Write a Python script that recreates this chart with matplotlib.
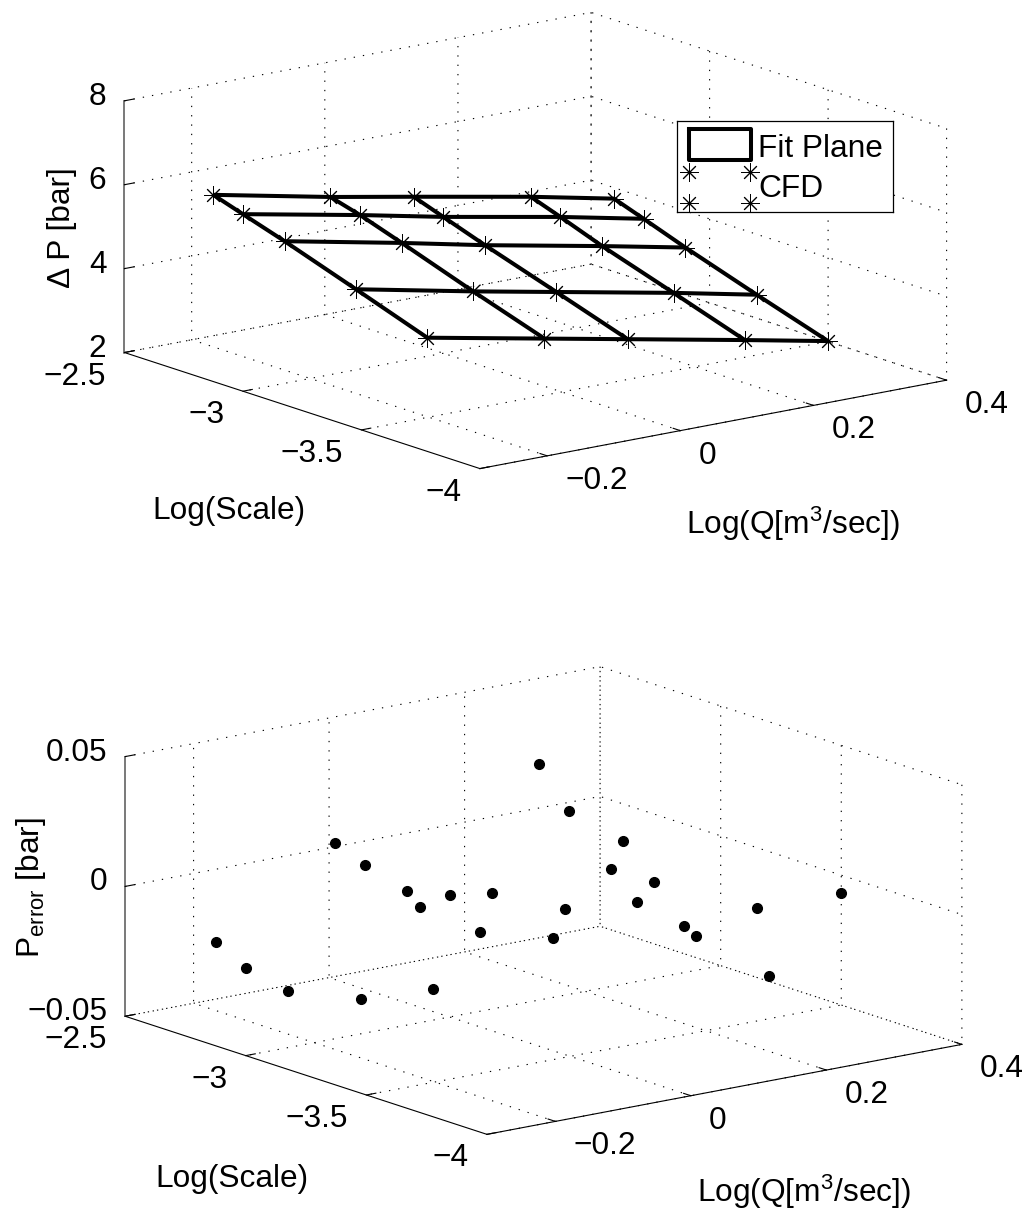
import matplotlib
matplotlib.use("Agg")
import matplotlib.pyplot as plt
from mpl_toolkits.mplot3d import proj3d
import numpy as np

plt.rcParams['font.family'] = ['Liberation Sans', 'DejaVu Sans']
plt.rcParams['mathtext.fontset'] = 'custom'
plt.rcParams['mathtext.rm'] = 'Liberation Sans'
plt.rcParams['mathtext.default'] = 'regular'
plt.rcParams['grid.linestyle'] = (0, (1.2, 7.2))
plt.rcParams['grid.linewidth'] = 0.8
plt.rcParams['grid.color'] = 'black'

W, H = 1031, 1214
FS = 22.8

# Log(Q) and Log(Scale) of the test grid
log_q = np.array([-0.301, -0.125, 0.0, 0.176, 0.301])
log_scale = np.array([-2.875, -3.0, -3.176, -3.477, -3.778])

# Delta P [bar], one row per scale
delta_p = np.array([
    [6.45, 5.87, 5.50, 4.97, 4.55],
    [6.22, 5.67, 5.25, 4.72, 4.30],
    [5.90, 5.33, 4.90, 4.35, 3.94],
    [5.31, 4.73, 4.34, 3.79, 3.37],
    [4.71, 4.16, 3.77, 3.22, 2.82],
])

# P error [bar]
p_error = np.array([
    [-0.0101, 0.0195, -0.0114, 0.0351, -0.0009],
    [-0.0163, 0.0148, -0.0030, 0.0208, -0.0128],
    [-0.0198, 0.0102, 0.0031, 0.0035, -0.0282],
    [-0.0137, 0.0032, 0.0062, -0.0093, -0.0348],
    [-0.0006, 0.0101, 0.0177, 0.0068, 0.0063],
])

q_ticks = [-0.2, 0, 0.2, 0.4]
q_labels = ['\u22120.2', '0', '0.2', '0.4']
scale_ticks = [-2.5, -3, -3.5, -4]
scale_labels = ['\u22122.5', '\u22123', '\u22123.5', '\u22124']
dp_ticks = [2, 4, 6, 8]
dp_labels = ['2', '4', '6', '8']
err_ticks = [-0.05, 0, 0.05]
err_labels = ['\u22120.05', '0', '0.05']


def tick_text(ax, x, y, z, s, dx, dy, ha):
    # project the tick position to pixels, then shift the label by some pixels
    px, py, _ = proj3d.proj_transform(x, y, z, ax.get_proj())
    X, Y = ax.transData.transform((px, py))
    ax.figure.text((X + dx) / W, (Y + dy) / H, s, ha=ha, va='center', fontsize=FS)


def make_axes(fig, cx, cy, size, z_ratio, zlim, z_ticks, z_labels):
    # cx, cy = centre of the 3d box in pixels from top left, size = axes side in pixels
    left = cx - 0.5135 * size
    bottom = H - cy - 0.5135 * size
    ax = fig.add_axes([left / W, bottom / H, size / W, size / H], projection='3d',
                      proj_type='ortho')
    ax.view_init(elev=14.4, azim=-127.3)
    ax.set_box_aspect((1, 1, z_ratio))
    ax.patch.set_alpha(0)
    for axis in (ax.xaxis, ax.yaxis, ax.zaxis):
        axis.set_pane_color((1, 1, 1, 0))
        axis.pane.set_edgecolor((0, 0, 0, 0))
        axis.line.set_color('black')
        axis.line.set_linewidth(0.8)
        axis._axinfo['tick']['inward_factor'] = 0.0
        axis._axinfo['tick']['outward_factor'] = 0.25
        axis._axinfo['tick']['linewidth'] = {True: 0.8, False: 0.8}
    ax.zaxis.line.set_color('#555555')
    ax.zaxis.line.set_linewidth(1.1)
    ax.set_xlim(-0.301, 0.4)
    ax.set_ylim(-4, -2.5)
    ax.set_zlim(*zlim)
    ax.set_xticks(q_ticks)
    ax.set_yticks(scale_ticks)
    ax.set_zticks(z_ticks)
    ax.xaxis.set_ticklabels([])
    ax.yaxis.set_ticklabels([])
    ax.zaxis.set_ticklabels([])
    ax.apply_aspect()
    for v, s in zip(q_ticks, q_labels):
        tick_text(ax, v, -4, zlim[0], s, 18, -25, 'left')
    for v, s in zip(scale_ticks, scale_labels):
        tick_text(ax, -0.301, v, zlim[0], s, -18, -24, 'right')
    for v, s in zip(z_ticks, z_labels):
        tick_text(ax, -0.301, -2.5, v, s, -18, 4, 'right')
    return ax


def pix_text(fig, x, y, s, **kw):
    fig.text(x / W, 1 - y / H, s, fontsize=FS, va='baseline', ha='center',
             rotation_mode='anchor', **kw)


fig = plt.figure(figsize=(W / 100, H / 100), dpi=100, facecolor='white')
Q, S = np.meshgrid(log_q, log_scale)

# top: fit plane with CFD points
ax1 = make_axes(fig, 535.5, 240.5, 844, 0.443, (2, 8), dp_ticks, dp_labels)
ax1.plot_wireframe(Q, S, delta_p, color='black', linewidth=2.9)
ax1.plot(Q.ravel(), S.ravel(), delta_p.ravel(), linestyle='none', marker=(8, 2, 0),
         markersize=13, markeredgewidth=0.7, color='black')
pix_text(fig, 229, 519, 'Log(Scale)')
pix_text(fig, 792.5, 534, 'Log(Q[m$^3$/sec])')
pix_text(fig, 70, 228, '\u0394 P [bar]', rotation=90)

# bottom: error points
ax2 = make_axes(fig, 543.5, 900.5, 860, 0.449, (-0.05, 0.05), err_ticks, err_labels)
ax2.plot(Q.ravel(), S.ravel(), p_error.ravel(), linestyle='none', marker='o',
         markersize=7, color='black')
pix_text(fig, 231.5, 1187, 'Log(Scale)')
pix_text(fig, 803.5, 1202, 'Log(Q[m$^3$/sec])')
pix_text(fig, 39, 888, 'P$_{error}$ [bar]', rotation=90)

# legend box
leg = fig.add_axes([677 / W, (H - 212) / H, 216 / W, 91 / H])
leg.set_xlim(677, 893)
leg.set_ylim(212, 121)
leg.set_xticks([])
leg.set_yticks([])
for sp in leg.spines.values():
    sp.set_linewidth(0.9)
leg.plot([689, 751, 751, 689, 689], [129, 129, 160, 160, 129], color='black', linewidth=2.9,
         solid_joinstyle='round')
leg.plot([689, 750, 689, 750], [172, 172, 203, 203], linestyle='none', marker=(8, 2, 0),
         markersize=13, markeredgewidth=0.7, color='black')
leg.text(758, 157, 'Fit Plane', fontsize=FS, va='baseline', ha='left')
leg.text(758, 197, 'CFD', fontsize=FS, va='baseline', ha='left')

fig.savefig('out.png', dpi=100)
